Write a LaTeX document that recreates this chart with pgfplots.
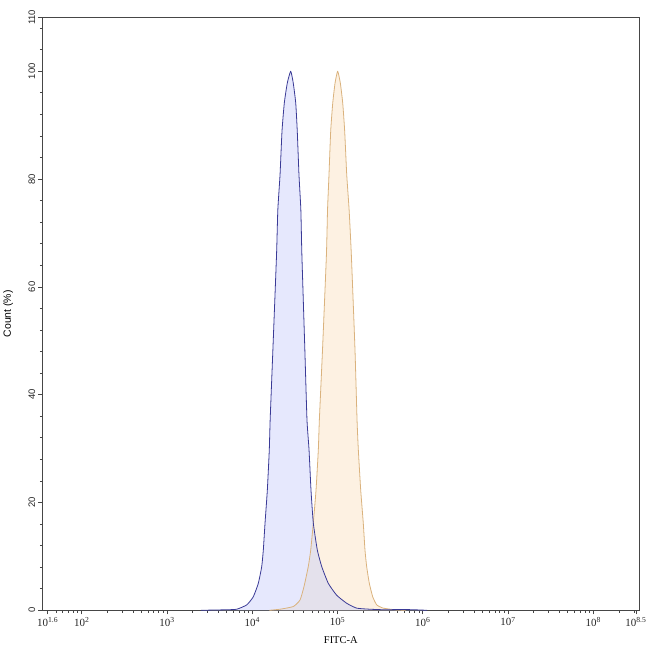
\documentclass[border=0pt]{standalone}
\usepackage{pgfplots}
\pgfplotsset{compat=1.18}
\usepackage{pgfplotstable}
\usepackage{fontspec}
\setmainfont{Liberation Serif}
\newfontfamily\arialfont{Liberation Sans}
\definecolor{blueline}{RGB}{58,58,150}
\definecolor{bluefill}{RGB}{200,205,250}
\definecolor{orangeline}{RGB}{218,178,125}
\definecolor{orangefill}{RGB}{250,225,190}
\definecolor{axisgray}{RGB}{70,70,70}

\pgfplotstableread{
lx y
3.40 0
3.55 0.05
3.70 0.1
3.818 0.2
3.935 1.0
4.012 2.5
4.071 5.0
4.111 8.1
4.130 11.2
4.150 16.2
4.177 22.3
4.200 29.8
4.210 35.3
4.242 48.3
4.285 66.0
4.300 74.3
4.326 80.8
4.349 88.9
4.376 94.1
4.411 97.8
4.451 100
4.481 97.8
4.510 94.1
4.528 88.9
4.548 80.8
4.570 74.3
4.582 66.0
4.617 48.3
4.642 35.3
4.666 29.8
4.689 22.3
4.716 16.2
4.763 11.2
4.815 8.1
4.892 5.0
4.990 2.8
5.108 1.3
5.225 0.4
5.381 0.2
5.55 0.1
5.75 0.15
5.90 0.1
6.05 0
}\bluedata

\pgfplotstableread{
lx y
4.20 0
4.326 0.2
4.481 0.7
4.560 1.9
4.607 4.4
4.657 8.1
4.686 11.2
4.716 16.2
4.748 22.3
4.775 29.8
4.787 35.3
4.824 48.3
4.870 66.0
4.883 74.3
4.900 80.8
4.920 88.9
4.944 94.1
4.971 97.8
5.002 100
5.033 97.8
5.061 94.1
5.084 88.9
5.108 80.8
5.136 74.3
5.162 66.0
5.205 48.3
5.229 35.3
5.244 29.8
5.272 22.3
5.302 16.2
5.322 11.2
5.342 8.1
5.373 5.0
5.413 2.5
5.460 1.0
5.537 0.4
5.675 0.1
5.80 0
}\orangedata

\begin{document}
\begin{tikzpicture}
\begin{axis}[
  scale only axis,
  width=597bp, height=593bp,
  xmin=1.538, xmax=8.539,
  ymin=0, ymax=110,
  axis line style={axisgray, line width=0.8pt},
  tick pos=left,
  tick align=outside,
  major tick length=4bp,
  minor tick length=2.5bp,
  every tick/.style={axisgray, line width=0.6pt},
  xtick={1.6,2,3,4,5,6,7,8,8.5},
  xticklabels={10\textsuperscript{1.6},10\textsuperscript{2},10\textsuperscript{3},10\textsuperscript{4},10\textsuperscript{5},10\textsuperscript{6},10\textsuperscript{7},10\textsuperscript{8},10\textsuperscript{8.5}},
  minor xtick={1.699,1.778,1.845,1.903,1.954,
    2.301,2.477,2.602,2.699,2.778,2.845,2.903,2.954,
    3.301,3.477,3.602,3.699,3.778,3.845,3.903,3.954,
    4.301,4.477,4.602,4.699,4.778,4.845,4.903,4.954,
    5.301,5.477,5.602,5.699,5.778,5.845,5.903,5.954,
    6.301,6.477,6.602,6.699,6.778,6.845,6.903,6.954,
    7.301,7.477,7.602,7.699,7.778,7.845,7.903,7.954,
    8.301,8.477},
  ytick={0,20,40,60,80,100,110},
  yticklabels={0,20,40,60,80,100,110},
  minor ytick={4,8,...,108},
  xticklabel style={font=\fontsize{11}{13}\selectfont, text=black!85, inner sep=2.5pt},
  yticklabel style={font=\arialfont\fontsize{9.5}{11}\selectfont, text=black!85, rotate=90, anchor=south, inner sep=3pt},
  xlabel={FITC-A},
  ylabel={Count (\%)},
  every axis x label/.style={at={(axis description cs:0.5,-0.050)}, anchor=center, font=\fontsize{10.5}{12}\selectfont},
  every axis y label/.style={at={(axis description cs:-0.057,0.5)}, anchor=center, rotate=90, font=\arialfont\fontsize{10.5}{12}\selectfont},
  clip=true,
]
\addplot[draw=none, fill=orangefill, fill opacity=0.45, smooth, tension=0.3] table[x=lx, y=y] {\orangedata} \closedcycle;
\addplot[draw=none, fill=bluefill, fill opacity=0.45, smooth, tension=0.3] table[x=lx, y=y] {\bluedata} \closedcycle;
\addplot[orangeline, line width=0.8pt, line join=round, smooth, tension=0.3] table[x=lx, y=y] {\orangedata};
\addplot[blueline, line width=0.8pt, line join=round, smooth, tension=0.3] table[x=lx, y=y] {\bluedata};
\end{axis}
\pgfresetboundingbox
\useasboundingbox (-42.3bp,-41.7bp) rectangle (607.7bp,610.3bp);
\end{tikzpicture}
\end{document}
